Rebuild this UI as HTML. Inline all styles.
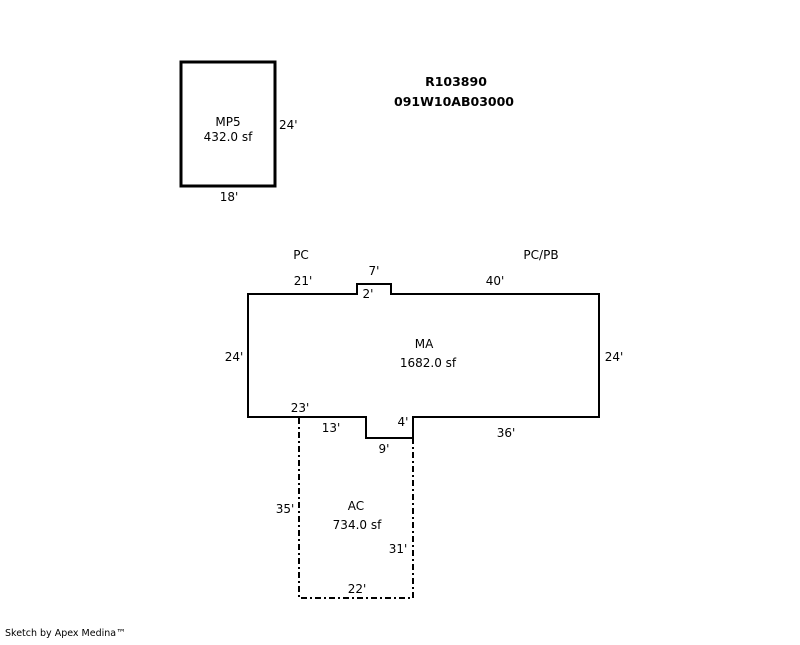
<!DOCTYPE html>
<html><head><style>
html,body{margin:0;padding:0;background:#fff;}
svg text{font-family:"DejaVu Sans","Liberation Sans",sans-serif;font-size:12px;fill:#000;}
</style></head><body>
<svg width="800" height="640" xmlns="http://www.w3.org/2000/svg">
<rect x="181" y="62" width="94" height="124" fill="none" stroke="#000" stroke-width="3"/>
<text x="228" y="126" text-anchor="middle">MP5</text>
<text x="228" y="141" text-anchor="middle">432.0 sf</text>
<text x="279" y="129">24'</text>
<text x="229" y="201" text-anchor="middle">18'</text>
<text x="456" y="86" text-anchor="middle" style="font-weight:bold;font-size:12.5px">R103890</text>
<text x="454" y="106" text-anchor="middle" style="font-weight:bold;font-size:12.5px">091W10AB03000</text>
<text x="301" y="259" text-anchor="middle">PC</text>
<text x="541" y="259" text-anchor="middle">PC/PB</text>
<path d="M248 294 H357 V284 H391 V294 H599 V417 H413 V438 H366 V417 H248 Z" fill="none" stroke="#000" stroke-width="2"/>
<path d="M299 418 V598 H413 V439" fill="none" stroke="#000" stroke-width="2" stroke-dasharray="6,3,2,3"/>
<text x="303" y="285" text-anchor="middle">21'</text>
<text x="374" y="275" text-anchor="middle">7'</text>
<text x="368" y="298" text-anchor="middle">2'</text>
<text x="495" y="285" text-anchor="middle">40'</text>
<text x="234" y="361" text-anchor="middle">24'</text>
<text x="614" y="361" text-anchor="middle">24'</text>
<text x="424" y="348" text-anchor="middle">MA</text>
<text x="428" y="367" text-anchor="middle">1682.0 sf</text>
<text x="300" y="412" text-anchor="middle">23'</text>
<text x="331" y="432" text-anchor="middle">13'</text>
<text x="403" y="426" text-anchor="middle">4'</text>
<text x="384" y="453" text-anchor="middle">9'</text>
<text x="506" y="437" text-anchor="middle">36'</text>
<text x="285" y="513" text-anchor="middle">35'</text>
<text x="356" y="510" text-anchor="middle">AC</text>
<text x="357" y="529" text-anchor="middle">734.0 sf</text>
<text x="398" y="553" text-anchor="middle">31'</text>
<text x="357" y="593" text-anchor="middle">22'</text>
<text x="5" y="636" style="font-size:9.5px">Sketch by Apex Medina™</text>
</svg>
</body></html>
